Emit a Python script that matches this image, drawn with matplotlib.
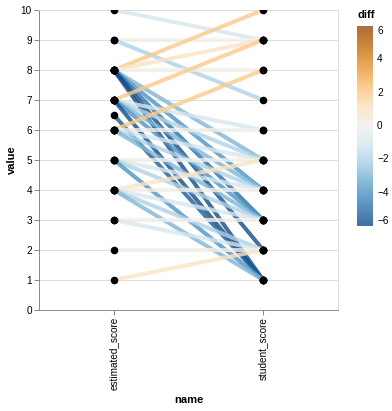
import matplotlib
matplotlib.use("Agg")
import matplotlib.pyplot as plt
import numpy as np
from matplotlib.colors import LinearSegmentedColormap, Normalize

plt.rcParams['font.family'] = ['Liberation Sans', 'DejaVu Sans']

# ---- data ----
names = ["estimated_score", "student_score"]
estimated_score = [10, 9, 9, 8, 8, 8, 8, 8, 8, 8, 8,
                   7, 7, 7, 7, 7, 7, 6.5,
                   6, 6, 6, 6, 6,
                   5, 5, 5, 5,
                   4, 4, 4, 4, 4,
                   3, 3, 2, 1]
student_score = [9, 9, 7, 10, 9, 8, 5, 4, 3, 2, 1,
                 9, 6, 5, 4, 3, 1, 1,
                 8, 6, 5, 4, 3,
                 5, 4, 3, 1,
                 5, 4, 3, 2, 1,
                 3, 2, 2, 2]
y_ticks = list(range(0, 11))
legend_ticks = [6, 4, 2, 0, -2, -4, -6]
color_domain = [-6, 6]

scheme = ['#134b85', '#2f78b3', '#5da2cb', '#9dcae1', '#d2e5ef', '#f2f0eb',
          '#fce0ba', '#fbbf74', '#e8932f', '#c5690d', '#994a07']
cmap = LinearSegmentedColormap.from_list('blueorange', scheme)
norm = Normalize(vmin=color_domain[0], vmax=color_domain[1])
ALPHA = 0.8

W, H = 392, 411
fig = plt.figure(figsize=(W / 100, H / 100), dpi=100)
ax = fig.add_axes([39 / W, 1 - 310 / H, 299 / W, 300 / H])

xpos = {n: i for i, n in enumerate(names)}
for e, s in zip(estimated_score, student_score):
    d = s - e
    ax.plot([xpos[names[0]], xpos[names[1]]], [e, s], color=cmap(norm(d)),
            alpha=ALPHA, lw=2.9, solid_capstyle='butt', zorder=2)

ax.scatter([xpos[names[0]]] * len(estimated_score), estimated_score, s=30,
           color='black', zorder=3, linewidths=0)
ax.scatter([xpos[names[1]]] * len(student_score), student_score, s=30,
           color='black', zorder=3, linewidths=0)

ax.set_xlim(-0.5, 1.5)
ax.set_ylim(0, 10)
ax.set_yticks(y_ticks)
ax.set_xticks([0, 1])
ax.set_xticklabels(names, rotation=90, fontsize=7.2)
ax.tick_params(axis='y', labelsize=7.2, length=3.6, color='#888888', width=0.7, pad=1.5)
ax.tick_params(axis='x', length=3.6, color='#888888', width=0.7, pad=1.5)
ax.grid(axis='y', color='#dddddd', lw=0.7, zorder=0)
ax.set_axisbelow(True)
for side in ['top', 'right']:
    ax.spines[side].set_color('#dddddd')
    ax.spines[side].set_linewidth(0.7)
for side in ['left', 'bottom']:
    ax.spines[side].set_color('#888888')
    ax.spines[side].set_linewidth(0.7)
fig.text(12 / W, 1 - 160 / H, 'value', fontsize=8, fontweight='bold',
         rotation=90, ha='center', va='center')
fig.text(189 / W, 1 - 400 / H, 'name', fontsize=8, fontweight='bold',
         ha='center', va='center')

# ---- legend (gradient) ----
cax = fig.add_axes([357 / W, 1 - 226 / H, 16 / W, 200 / H])
grad = np.linspace(color_domain[1], color_domain[0], 256).reshape(-1, 1)
cax.imshow(grad, aspect='auto', cmap=cmap, norm=norm, alpha=ALPHA,
           extent=[0, 1, color_domain[0], color_domain[1]])
cax.set_xticks([])
cax.set_yticks([])
for sp in cax.spines.values():
    sp.set_visible(False)
for t in legend_ticks:
    va = 'center'
    if t == color_domain[1]:
        va = 'top'
    elif t == color_domain[0]:
        va = 'bottom'
    cax.text(1.25, t, f"{t}".replace('-', '\u2212'), va=va, ha='left',
             fontsize=7.2, transform=cax.transData)
fig.text(357 / W, 1 - 15 / H, 'diff', fontsize=8, fontweight='bold',
         ha='left', va='center')

fig.savefig('out.png', dpi=100)
